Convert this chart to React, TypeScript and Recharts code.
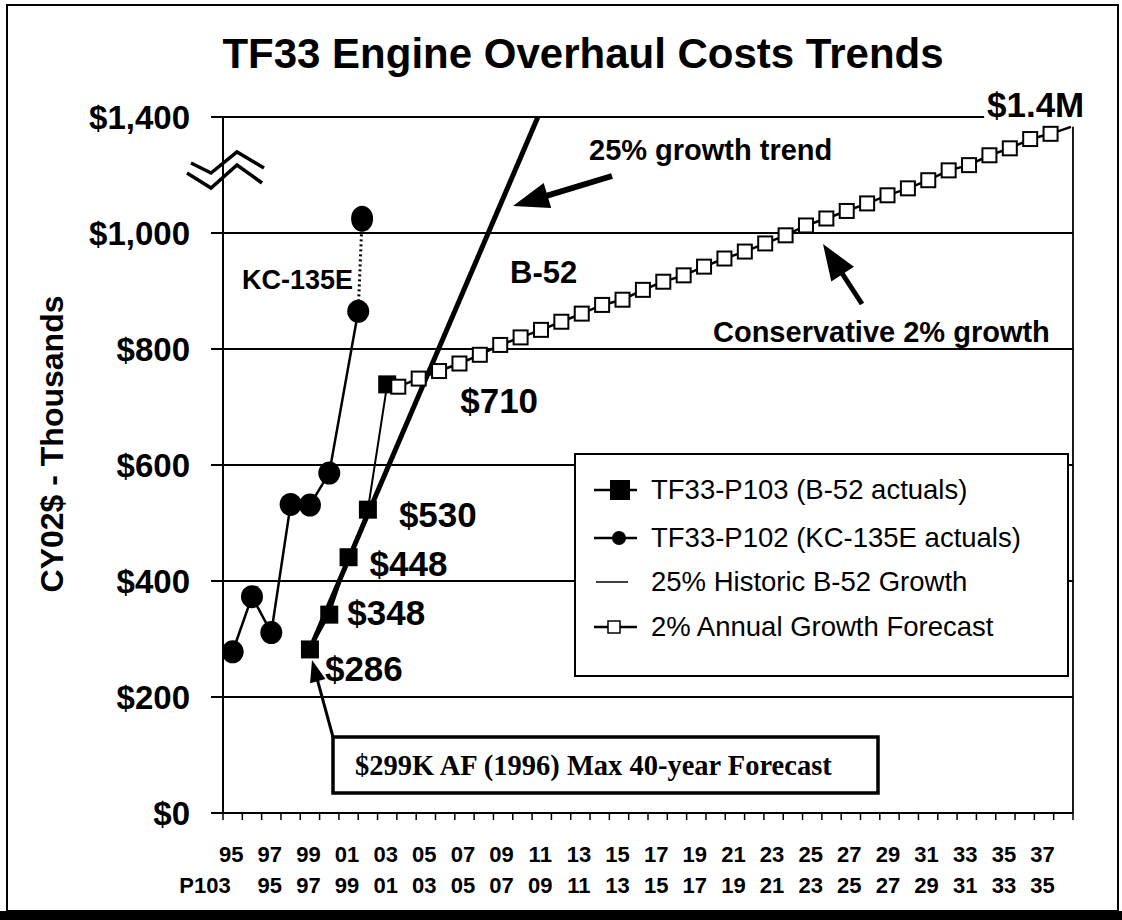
import React from "react";
import { LineChart, Line, XAxis, YAxis, ReferenceLine, Legend, LabelList } from "recharts";

const FONT = "'Liberation Sans', Arial, Helvetica, sans-serif";
const SERIF = "'Liberation Serif', 'Times New Roman', serif";

// ---- overhaul costs, CY02 $K ----
const kcYears = [1995, 1996, 1997, 1998, 1999, 2000, 2001.5];
const kcCosts = [278, 373, 311, 532, 531, 586, 865];
// latest KC-135E figure, joined by a dotted line
const kcJumpYears = [2001.5, 2001.7];
const kcJumpCosts = [865, 1049];

const b52Years = [1999, 2000, 2001, 2002, 2003];
const b52Costs = [282, 342, 441, 523, 739];
const b52Labels = ["$286", "$348", "$448", "$530", "$710"];

const trendYears = [1999, 2010.8];
const trendCosts = [282, 1400];

const forecastYears = [
  2004, 2005, 2006, 2007, 2008, 2009, 2010, 2011, 2012, 2013, 2014, 2015, 2016, 2017, 2018, 2019, 2020,
  2021, 2022, 2023, 2024, 2025, 2026, 2027, 2028, 2029, 2030, 2031, 2032, 2033, 2034, 2035, 2036, 2037,
];
const forecastCosts = [
  735, 749, 762, 775, 790, 807, 820, 833, 847, 861, 876, 885, 902, 916, 927, 942, 956, 968, 982, 996,
  1026, 1050, 1076, 1102, 1130, 1154, 1182, 1216, 1234, 1268, 1292, 1324, 1342, 1366,
];

// ---- axes ----
const axisYears = [
  1995, 1996, 1997, 1998, 1999, 2000, 2001, 2002, 2003, 2004, 2005, 2006, 2007, 2008, 2009, 2010, 2011,
  2012, 2013, 2014, 2015, 2016, 2017, 2018, 2019, 2020, 2021, 2022, 2023, 2024, 2025, 2026, 2027, 2028,
  2029, 2030, 2031, 2032, 2033, 2034, 2035, 2036, 2037, 2038,
];
const labelYears = [
  1995, 1997, 1999, 2001, 2003, 2005, 2007, 2009, 2011, 2013, 2015, 2017, 2019, 2021, 2023, 2025, 2027,
  2029, 2031, 2033, 2035, 2037,
];
const topRowLabels = [
  "95", "97", "99", "01", "03", "05", "07", "09", "11", "13", "15", "17", "19", "21", "23", "25", "27",
  "29", "31", "33", "35", "37",
];
const bottomRowLabels = [
  "P103", "95", "97", "99", "01", "03", "05", "07", "09", "11", "13", "15", "17", "19", "21", "23", "25",
  "27", "29", "31", "33", "35",
];
const costTicks = [0, 200, 400, 600, 800, 1000, 1400];
const gridCosts = [200, 400, 600, 800, 1000];

const legendOrder = [
  "TF33-P103 (B-52 actuals)",
  "TF33-P102 (KC-135E actuals)",
  "25% Historic B-52 Growth",
  "2% Annual Growth Forecast",
];

// broken y axis: above $1,000 each $400 gets the room of $200
const BREAK = 1000;
const toAxis = (v: number) => (v <= BREAK ? v : BREAK + (v - BREAK) / 2);
const fromAxis = (d: number) => (d <= BREAK ? d : BREAK + (d - BREAK) * 2);
const plotY = (r: { cost: number }) => toAxis(r.cost);

const rows = (xs: number[], ys: number[]) => xs.map((x, i) => ({ x, cost: ys[i] }));
const kcData = rows(kcYears, kcCosts);
const kcJumpData = rows(kcJumpYears, kcJumpCosts);
const b52Data = rows(b52Years, b52Costs);
const trendData = rows(trendYears, trendCosts);
const forecastData = forecastYears.map((y, i) => ({ x: i, year: y, cost: forecastCosts[i] }));

// tick marks sit between years, labels on every other year
const yearEdges = axisYears.map((y) => y - 0.5).concat(axisYears[axisYears.length - 1] + 0.5);
const xTicks = [...yearEdges, ...labelYears].sort((a, b) => a - b);
const X_DOMAIN: [number, number] = [1994.5, 2038.5];

// label offsets from each B-52 point
const b52LabelOffsets = [
  [15, 32],
  [18, 10],
  [21, 19],
  [31, 17],
  [73, 29],
];

const SquareDot = (p: any) => (
  <rect key={`sq-${p.index}`} x={p.cx - 9} y={p.cy - 9} width={18} height={18} fill="#000" />
);
const CircleDot = (p: any) => <ellipse key={`c-${p.index}`} cx={p.cx} cy={p.cy} rx={11} ry={11.5} fill="#000" />;
const JumpDot = (p: any) =>
  p.index === 1 ? <ellipse key={`j-${p.index}`} cx={p.cx} cy={p.cy} rx={11} ry={13} fill="#000" /> : <g key={`j-${p.index}`} />;
const OpenSquareDot = (p: any) =>
  p.index === forecastCosts.length - 1 ? (
    <g key={`o-${p.index}`} />
  ) : (
    <rect key={`o-${p.index}`} x={p.cx - 7} y={p.cy - 7} width={14} height={14} fill="#fff" stroke="#000" strokeWidth={2} />
  );

function B52Label(p: any) {
  const [dx, dy] = b52LabelOffsets[p.index] || [15, 15];
  return (
    <text x={p.x + dx} y={p.y + dy} fontSize={35} fontWeight={700} fontFamily={FONT} fill="#000">
      {b52Labels[p.index]}
    </text>
  );
}

function YearTick(p: any) {
  const v = p.payload.value;
  const i = labelYears.indexOf(v);
  if (i < 0) {
    return <line x1={p.x} y1={p.y} x2={p.x} y2={p.y + 7} stroke="#000" strokeWidth={1.5} />;
  }
  return (
    <g fontFamily={FONT} fontWeight={700} fontSize={22} fill="#000">
      <text x={p.x - 1.5} y={p.y + 49} textAnchor="middle">
        {topRowLabels[i]}
      </text>
      <text x={i === 0 ? p.x - 2 : p.x - 1.5} y={p.y + 80} textAnchor={i === 0 ? "end" : "middle"}>
        {bottomRowLabels[i]}
      </text>
    </g>
  );
}

function LegendIcon({ name }: { name: string }) {
  const i = legendOrder.indexOf(name);
  return (
    <svg width={50} height={30} style={{ display: "block" }}>
      {i === 2 ? (
        <line x1={4} y1={15} x2={36} y2={15} stroke="#000" strokeWidth={1.5} />
      ) : (
        <line x1={2} y1={15} x2={45} y2={15} stroke="#000" strokeWidth={2.5} />
      )}
      {i === 0 && <rect x={18} y={5} width={20} height={20} fill="#000" />}
      {i === 1 && <circle cx={27} cy={15} r={7} fill="#000" />}
      {i === 3 && <rect x={16} y={9} width={12} height={12} fill="#fff" stroke="#000" strokeWidth={1.5} />}
    </svg>
  );
}

const legendRows = [37, 85, 129, 174];

function LegendBox(props: any) {
  const names: string[] = (props.payload || []).map((e: any) => e.value);
  const shown = legendOrder.filter((n) => names.length === 0 || names.includes(n));
  return (
    <div
      style={{
        position: "relative",
        width: 495,
        height: 224,
        boxSizing: "border-box",
        border: "2.5px solid #000",
        background: "#fff",
        fontFamily: FONT,
        color: "#000",
      }}
    >
      {shown.map((n, i) => (
        <div
          key={n}
          style={{ position: "absolute", left: 16, top: legendRows[i] - 17, height: 30, display: "flex", alignItems: "center" }}
        >
          <LegendIcon name={n} />
          <span style={{ fontSize: 27.5, marginLeft: 9, whiteSpace: "nowrap", lineHeight: "30px" }}>{n}</span>
        </div>
      ))}
    </div>
  );
}

function Arrow({ x1, y1, x2, y2, w, head, headW }: any) {
  const len = Math.hypot(x2 - x1, y2 - y1);
  const ux = (x2 - x1) / len;
  const uy = (y2 - y1) / len;
  const bx = x2 - ux * head;
  const by = y2 - uy * head;
  const px = -uy * (headW / 2);
  const py = ux * (headW / 2);
  return (
    <g>
      <line x1={x1} y1={y1} x2={bx + ux * 2} y2={by + uy * 2} stroke="#000" strokeWidth={w} />
      <polygon points={`${x2},${y2} ${bx + px},${by + py} ${bx - px},${by - py}`} fill="#000" />
    </g>
  );
}

function Annotations() {
  const bold = { fontFamily: FONT, fontWeight: 700, fill: "#000" } as const;
  return (
    <svg width={1122} height={920} style={{ position: "absolute", left: 0, top: 0, pointerEvents: "none" }}>
      <rect x={7} y={5} width={1111} height={906} fill="none" stroke="#000" strokeWidth={2} />
      <rect x={0} y={911} width={1122} height={9} fill="#000" />
      <text x={583} y={68} textAnchor="middle" fontSize={42} {...bold}>
        TF33 Engine Overhaul Costs Trends
      </text>
      <text transform="translate(52,444) rotate(-90)" textAnchor="middle" dominantBaseline="central" fontSize={32} {...bold}>
        CY02$ - Thousands
      </text>
      {/* axis break */}
      <polyline points="191,163 211,173 237,152 264,168" fill="none" stroke="#000" strokeWidth={3.5} />
      <polyline points="187,173 211,188 237,165 262,183" fill="none" stroke="#000" strokeWidth={3.5} />
      <text x={242} y={289} fontSize={27} {...bold}>KC-135E</text>
      <text x={510} y={283} fontSize={31} {...bold}>B-52</text>
      <text x={589} y={160} fontSize={29} {...bold}>25% growth trend</text>
      <text x={713} y={342} fontSize={29} {...bold}>Conservative 2% growth</text>
      <text x={987} y={117} fontSize={35} {...bold}>$1.4M</text>
      <Arrow x1={612} y1={176} x2={513} y2={206} w={6} head={36} headW={26} />
      <Arrow x1={862} y1={304} x2={823} y2={244} w={5} head={36} headW={27} />
      <Arrow x1={333} y1={737} x2={312} y2={660} w={3} head={22} headW={16} />
      <rect x={333} y={737} width={545} height={56} fill="#fff" stroke="#000" strokeWidth={3.5} />
      <text x={355} y={775} fontFamily={SERIF} fontWeight={700} fontSize={28.5} fill="#000">
        $299K AF (1996) Max 40-year Forecast
      </text>
    </svg>
  );
}

export default function App() {
  return (
    <div style={{ position: "absolute", left: 0, top: 0, width: 1122, height: 920, background: "#fff" }}>
      <LineChart width={1122} height={920} margin={{ top: 117, right: 49, bottom: 0, left: 0 }} style={{ fontFamily: FONT }}>
        <XAxis
          xAxisId="yr"
          type="number"
          dataKey="x"
          domain={X_DOMAIN}
          ticks={xTicks}
          interval={0}
          tick={<YearTick />}
          tickSize={0}
          tickMargin={0}
          height={107}
          allowDataOverflow
          axisLine={{ stroke: "#000", strokeWidth: 2 }}
          tickLine={false}
        />
        <XAxis xAxisId="fc" type="number" dataKey="x" domain={[-8.6, 33.1]} height={0} hide allowDataOverflow />
        <YAxis
          type="number"
          domain={[0, 1200]}
          ticks={costTicks.map(toAxis)}
          interval={0}
          tickFormatter={(d: number) => "$" + fromAxis(d).toLocaleString("en-US")}
          width={223}
          tickSize={12}
          tickMargin={21}
          tick={{ fill: "#000", fontSize: 33, fontWeight: 700, fontFamily: FONT }}
          axisLine={{ stroke: "#000", strokeWidth: 2 }}
          tickLine={{ stroke: "#000", strokeWidth: 2 }}
          allowDataOverflow
        />
        {gridCosts.map((c) => (
          <ReferenceLine key={c} xAxisId="yr" y={toAxis(c)} stroke="#000" strokeWidth={1.8} />
        ))}
        <ReferenceLine
          xAxisId="yr"
          segment={[
            { x: 1994.5, y: toAxis(1400) },
            { x: 2033.9, y: toAxis(1400) },
          ]}
          stroke="#000"
          strokeWidth={1.8}
        />
        <ReferenceLine
          xAxisId="yr"
          segment={[
            { x: 2038.5, y: 0 },
            { x: 2038.5, y: toAxis(forecastCosts[forecastCosts.length - 1]) },
          ]}
          stroke="#000"
          strokeWidth={1.8}
        />
        <Line
          xAxisId="yr"
          data={trendData}
          dataKey={plotY}
          name="25% Historic B-52 Growth"
          stroke="#000"
          strokeWidth={5}
          dot={false}
          isAnimationActive={false}
        />
        <Line
          xAxisId="yr"
          data={b52Data}
          dataKey={plotY}
          name="TF33-P103 (B-52 actuals)"
          stroke="#000"
          strokeWidth={2}
          dot={SquareDot}
          isAnimationActive={false}
        >
          <LabelList dataKey={plotY} content={B52Label} />
        </Line>
        <Line
          xAxisId="yr"
          data={kcData}
          dataKey={plotY}
          name="TF33-P102 (KC-135E actuals)"
          stroke="#000"
          strokeWidth={2.5}
          dot={CircleDot}
          isAnimationActive={false}
        />
        <Line
          xAxisId="yr"
          data={kcJumpData}
          dataKey={plotY}
          name="KC-135E latest"
          legendType="none"
          stroke="#000"
          strokeWidth={3}
          strokeDasharray="2 3"
          dot={JumpDot}
          isAnimationActive={false}
        />
        <Line
          xAxisId="fc"
          data={forecastData}
          dataKey={plotY}
          name="2% Annual Growth Forecast"
          stroke="#000"
          strokeWidth={2.5}
          dot={OpenSquareDot}
          isAnimationActive={false}
        />
        <Legend
          layout="vertical"
          align="center"
          verticalAlign="middle"
          width={495}
          height={224}
          wrapperStyle={{ left: 574, top: 453, width: 495, height: 224 }}
          content={LegendBox}
        />
      </LineChart>
      <Annotations />
    </div>
  );
}
